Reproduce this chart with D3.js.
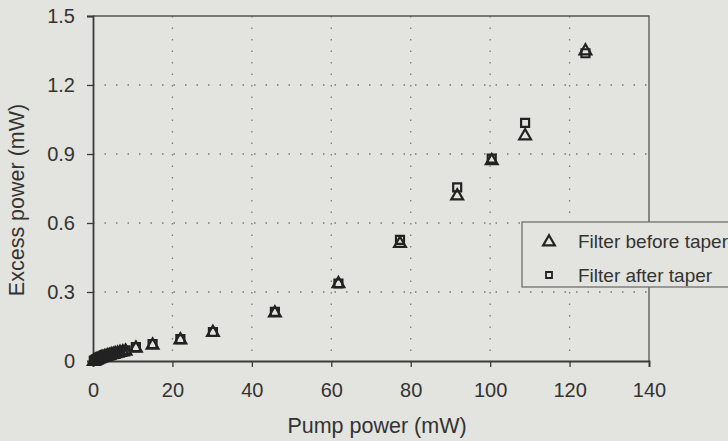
<!DOCTYPE html>
<html>
<head>
<meta charset="utf-8">
<script src="https://cdn.jsdelivr.net/npm/d3@7"></script>
<style>
html,body{margin:0;padding:0;background:#e3e3df;}
svg{display:block;}
text{font-family:"Liberation Sans",Arial,sans-serif;fill:#333;}
</style>
</head>
<body>
<svg id="chart" width="728" height="441"></svg>
<script>
// Data
const pumpPower = [0.2, 0.4, 0.6, 0.8, 1.0, 1.3, 1.6, 1.9, 2.2, 2.5, 2.9, 3.3, 3.7, 4.1, 4.6, 5.1, 5.6, 6.2, 6.8, 7.5, 8.2, 10.8, 15.0, 22.0, 30.2, 45.8, 61.8, 77.3, 91.7, 100.4, 108.8, 124.0];
const filterBefore = [0.002, 0.004, 0.006, 0.008, 0.010, 0.012, 0.014, 0.016, 0.018, 0.020, 0.022, 0.024, 0.026, 0.028, 0.031, 0.033, 0.036, 0.038, 0.041, 0.044, 0.047, 0.060, 0.073, 0.096, 0.128, 0.213, 0.340, 0.515, 0.722, 0.875, 0.983, 1.352];
const filterAfter  = [0.001, 0.003, 0.005, 0.007, 0.009, 0.011, 0.013, 0.015, 0.017, 0.019, 0.021, 0.023, 0.025, 0.027, 0.030, 0.032, 0.035, 0.037, 0.040, 0.043, 0.046, 0.060, 0.074, 0.095, 0.126, 0.214, 0.337, 0.527, 0.755, 0.880, 1.035, 1.338];
const xTicks = [0, 20, 40, 60, 80, 100, 120, 140];
const yTicks = [0, 0.3, 0.6, 0.9, 1.2, 1.5];
const yTickLabels = ["0", "0.3", "0.6", "0.9", "1.2", "1.5"];
const seriesNames = ["Filter before taper", "Filter after taper"];
const xTitle = "Pump power (mW)";
const yTitle = "Excess power (mW)";

const svg = d3.select("#chart");
const L = 93, R = 649, T = 16, B = 361;
const x = d3.scaleLinear().domain([0, 140]).range([L, R]);
const y = d3.scaleLinear().domain([0, 1.5]).range([B, T]);
const ink = "#3a3a3a";

// gridlines (dotted)
const grid = svg.append("g");
grid.selectAll("line.v").data(xTicks.slice(1, -1)).join("line")
  .attr("x1", d => x(d)).attr("x2", d => x(d)).attr("y1", T).attr("y2", B)
  .attr("stroke", "#7a7a7a").attr("stroke-width", 1.3).attr("stroke-dasharray", "1.5,10");
grid.selectAll("line.h").data(yTicks.slice(1, -1)).join("line")
  .attr("y1", d => y(d)).attr("y2", d => y(d)).attr("x1", L).attr("x2", R)
  .attr("stroke", "#7a7a7a").attr("stroke-width", 1.3).attr("stroke-dasharray", "1.5,10");

// plot border (top and right)
svg.append("path").attr("d", `M${L},${T}H${R}V${B}`).attr("fill", "none")
  .attr("stroke", "#555").attr("stroke-width", 1.3);

// axes
const xAxis = svg.append("g").attr("transform", `translate(0,${B})`)
  .call(d3.axisBottom(x).tickValues(xTicks).tickSize(6).tickPadding(12).tickFormat(d3.format("d")));
const yAxis = svg.append("g").attr("transform", `translate(${L},0)`)
  .call(d3.axisLeft(y).tickValues(yTicks).tickSize(6).tickPadding(12).tickFormat((d, i) => yTickLabels[i]));
[xAxis, yAxis].forEach(a => {
  a.select(".domain").attr("stroke", ink).attr("stroke-width", 1.8);
  a.selectAll(".tick line").attr("stroke", ink).attr("stroke-width", 1.3);
  a.selectAll(".tick text").attr("font-size", 20).attr("fill", "#333")
    .attr("font-family", "'Liberation Sans', Arial, sans-serif");
});
xAxis.selectAll(".tick text").attr("dy", "0.9em");

// axis titles
svg.append("text").attr("x", 377).attr("y", 433).attr("text-anchor", "middle")
  .attr("font-size", 21.5).text(xTitle);
svg.append("text").attr("transform", "translate(24,200) rotate(-90)").attr("text-anchor", "middle")
  .attr("font-size", 21.5).text(yTitle);

// markers
const tri = d3.symbol().type(d3.symbolTriangle).size(60);
const sq = d3.symbol().type(d3.symbolSquare).size(64);
const pts = svg.append("g");
pts.selectAll("path.b").data(pumpPower.map((p, i) => [p, filterBefore[i]])).join("path")
  .attr("d", tri).attr("transform", d => `translate(${x(d[0])},${y(d[1]) + 1})`)
  .attr("fill", "none").attr("stroke", "#222").attr("stroke-width", 2.2);
pts.selectAll("path.a").data(pumpPower.map((p, i) => [p, filterAfter[i]])).join("path")
  .attr("d", sq).attr("transform", d => `translate(${x(d[0])},${y(d[1])})`)
  .attr("fill", "none").attr("stroke", "#222").attr("stroke-width", 2.2);

// legend
const lg = svg.append("g");
lg.append("rect").attr("x", 522).attr("y", 222).attr("width", 230).attr("height", 65)
  .attr("fill", "#e3e3df").attr("stroke", "#666").attr("stroke-width", 1.2);
lg.append("path").attr("d", tri).attr("transform", "translate(549,242)")
  .attr("fill", "none").attr("stroke", "#222").attr("stroke-width", 2.2);
lg.append("path").attr("d", d3.symbol().type(d3.symbolSquare).size(36)).attr("transform", "translate(549,275)")
  .attr("fill", "none").attr("stroke", "#222").attr("stroke-width", 1.8);
lg.append("text").attr("x", 578).attr("y", 248).attr("font-size", 19).text(seriesNames[0]);
lg.append("text").attr("x", 578).attr("y", 282).attr("font-size", 19).text(seriesNames[1]);
</script>
</body>
</html>
